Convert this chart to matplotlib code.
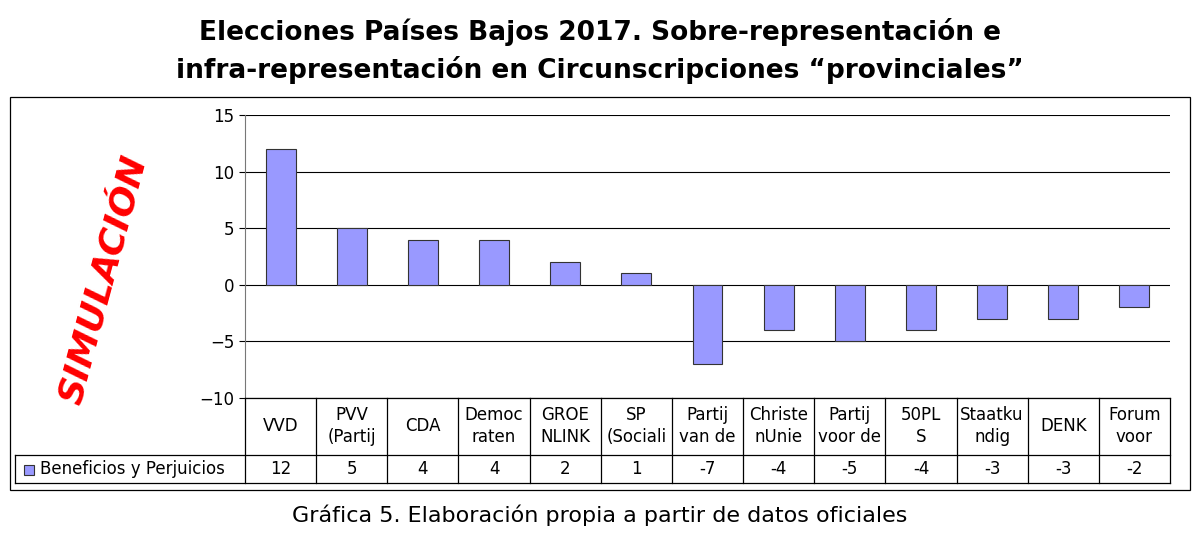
import matplotlib.pyplot as plt
from matplotlib.lines import Line2D
from matplotlib.patches import Rectangle

categories = ['VVD', 'PVV\n(Partij', 'CDA', 'Democ\nraten', 'GROE\nNLINK', 'SP\n(Sociali',
              'Partij\nvan de', 'Christe\nnUnie', 'Partij\nvoor de', '50PLUS\n'[:4] + '\nS',
              'Staatku\nndig', 'DENK', 'Forum\nvoor']
values = [12, 5, 4, 4, 2, 1, -7, -4, -5, -4, -3, -3, -2]
series_name = 'Beneficios y Perjuicios'

W, H = 1200, 551
fig = plt.figure(figsize=(W / 100, H / 100), dpi=100)

def fx(x): return x / W
def fy(y): return 1 - y / H

def hline(x0, x1, y, **kw):
    fig.add_artist(Line2D([fx(x0), fx(x1)], [fy(y), fy(y)], color='black', lw=0.9, **kw))

def vline(x, y0, y1, **kw):
    fig.add_artist(Line2D([fx(x), fx(x)], [fy(y0), fy(y1)], color='black', lw=0.9, **kw))

left, right, top, bottom = 245, 1170, 115, 398
ax = fig.add_axes([fx(left), fy(bottom), fx(right) - fx(left), fy(top) - fy(bottom)])
n = len(values)
ax.bar(range(n), values, width=0.42, color='#9999FF', edgecolor='#333333', linewidth=0.8, zorder=3)
ax.set_xlim(-0.5, n - 0.5)
ax.set_ylim(-10, 15)
ax.set_yticks(range(-10, 16, 5))
ax.yaxis.grid(True, color='black', lw=0.8, zorder=0)
ax.set_xticks([])
ax.tick_params(axis='y', labelsize=12, length=4)
for s in ['top', 'right', 'bottom']:
    ax.spines[s].set_visible(False)
ax.spines['left'].set_color('#777777')

# data table
cw = (right - left) / n
hline(left, right, bottom)
hline(15, right, 455)
hline(15, right, 483)
vline(15, 455, 483)
for i in range(n + 1):
    vline(left + i * cw, bottom, 483)
for i, (c, v) in enumerate(zip(categories, values)):
    cx = left + (i + 0.5) * cw
    fig.text(fx(cx), fy(426), c, ha='center', va='center', fontsize=12, linespacing=1.3)
    fig.text(fx(cx), fy(469), str(v), ha='center', va='center', fontsize=12)
fig.add_artist(Rectangle((fx(24), fy(475)), fx(10), 10 / H, facecolor='#9999FF',
                         edgecolor='#333333', lw=0.8))
fig.text(fx(40), fy(469), series_name, ha='left', va='center', fontsize=12)

# outer border
fig.add_artist(Rectangle((fx(10), fy(490)), fx(1180), 393 / H, fill=False, edgecolor='black', lw=0.9))

fig.text(0.5, fy(32), 'Elecciones Países Bajos 2017. Sobre-representación e',
         ha='center', va='center', fontsize=19, fontweight='bold')
fig.text(0.5, fy(70), 'infra-representación en Circunscripciones “provinciales”',
         ha='center', va='center', fontsize=19, fontweight='bold')
fig.text(fx(103), fy(280), 'SIMULACIÓN', rotation=75, ha='center', va='center',
         fontsize=26, color='red', fontweight='bold', style='italic')
fig.text(0.5, fy(515), 'Gráfica 5. Elaboración propia a partir de datos oficiales',
         ha='center', va='center', fontsize=16, family='Liberation Sans Narrow')

fig.savefig('out.png', dpi=100)
